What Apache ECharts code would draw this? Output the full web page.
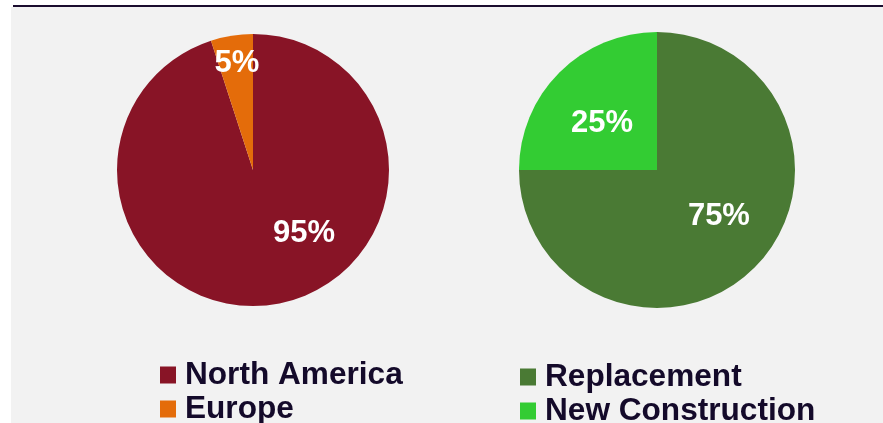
<!DOCTYPE html>
<html>
<head>
<meta charset="utf-8">
<script src="https://cdn.jsdelivr.net/npm/echarts@6/dist/echarts.min.js"></script>
<style>html,body{margin:0;padding:0;background:#fff;}#c{width:883px;height:423px;}</style>
</head>
<body>
<div id="c"></div>
<script>
var regionNames = ['North America', 'Europe'];
var regionValues = [95, 5];
var typeNames = ['Replacement', 'New Construction'];
var typeValues = [75, 25];

var regionColors = ['#881426', '#E46C0A'];
var typeColors = ['#4A7A34', '#33CC33'];
var regionOffsets = [[40, -7], [-5, -36]];
var typeOffsets = [[11, -4], [-4, 4]];
var textColor = '#140A2A';
var font = '"Liberation Sans", Arial, sans-serif';

function buildData(names, values, colors, offsets) {
  return names.map(function (n, i) {
    return { name: n, value: values[i], itemStyle: { color: colors[i] }, label: { offset: offsets[i] } };
  });
}

var chart = echarts.init(document.getElementById('c'), null, { renderer: 'canvas' });
var labelStyle = {
  show: true, position: 'inside', color: '#fff', fontSize: 31, fontWeight: 'bold',
  fontFamily: font, formatter: '{c}%'
};
function legendOf(names, left, top) {
  return {
    data: names, orient: 'vertical', left: left, top: top, height: 100, padding: 0,
    itemWidth: 16, itemHeight: 17, itemGap: 0, icon: 'rect', selectedMode: false,
    textStyle: { color: textColor, fontSize: 31.6, fontWeight: 'bold', fontFamily: font, lineHeight: 34, padding: [0, 0, 0, 4] }
  };
}
chart.setOption({
  animation: false,
  backgroundColor: '#ffffff',
  graphic: [
    { type: 'rect', shape: { x: 11, y: 7, width: 872, height: 416 }, style: { fill: '#F2F2F2' }, z: -10 },
    { type: 'rect', shape: { x: 13, y: 5, width: 870, height: 2 }, style: { fill: '#1A0C2E' }, z: -9 }
  ],
  legend: [legendOf(regionNames, 160, 358), legendOf(typeNames, 520, 360)],
  series: [
    {
      type: 'pie', center: [253, 170], radius: 136, startAngle: 90, clockwise: true,
      label: labelStyle, labelLine: { show: false }, emphasis: { disabled: true },
      data: buildData(regionNames, regionValues, regionColors, regionOffsets)
    },
    {
      type: 'pie', center: [657, 170], radius: 138, startAngle: 90, clockwise: true,
      label: labelStyle, labelLine: { show: false }, emphasis: { disabled: true },
      data: buildData(typeNames, typeValues, typeColors, typeOffsets)
    }
  ]
});
</script>
</body>
</html>
